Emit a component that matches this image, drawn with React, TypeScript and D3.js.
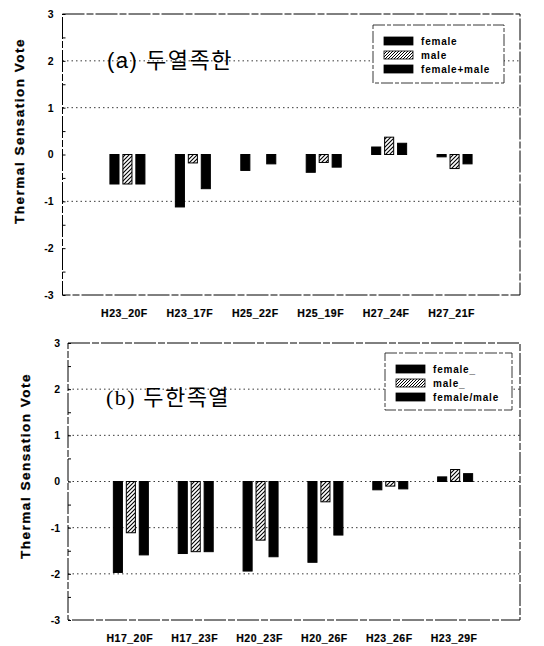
import React, { useEffect, useRef } from 'react';
import * as d3 from 'd3';

// panel (a): 두열족한
const topCategories = ['H23_20F', 'H23_17F', 'H25_22F', 'H25_19F', 'H27_24F', 'H27_21F'];
const topFemale = [-0.63, -1.12, -0.34, -0.38, 0.16, -0.05];
const topMale = [-0.63, -0.18, 0, -0.17, 0.37, -0.3];
const topBoth = [-0.63, -0.73, -0.2, -0.27, 0.24, -0.2];
const topLegend = ['female', 'male', 'female+male'];
const topGrid = [2, 1, -1];

// panel (b): 두한족열
const bottomCategories = ['H17_20F', 'H17_23F', 'H20_23F', 'H20_26F', 'H23_26F', 'H23_29F'];
const bottomFemale = [-1.97, -1.56, -1.94, -1.75, -0.18, 0.1];
const bottomMale = [-1.11, -1.52, -1.27, -0.44, -0.1, 0.26];
const bottomBoth = [-1.59, -1.52, -1.63, -1.16, -0.16, 0.17];
const bottomLegend = ['female_', 'male_', 'female/male'];
const bottomGrid = [2, 1, 0, -1, -2];

const yTicks = [-3, -2, -1, 0, 1, 2, 3];
const yMinorTicks = [-2.5, -1.5, -0.5, 0.5, 1.5, 2.5];
const seriesKeys = ['female', 'male', 'both'];

const sans = '"Liberation Sans", Arial, sans-serif';

function drawPanel(root, p) {
  const g = root.append('g');

  const y = d3.scaleLinear().domain([-3, 3]).range([p.bottom, p.top]);
  const x = d3.scalePoint().domain(p.categories).range(p.xRange).padding(1);
  const inner = d3.scaleBand().domain(seriesKeys).range([-17.5, 17.5]).paddingInner(0.3);

  // dotted grid lines
  g.selectAll('line.grid')
    .data(p.grid)
    .enter()
    .append('line')
    .attr('x1', p.left)
    .attr('x2', p.right)
    .attr('y1', d => y(d))
    .attr('y2', d => y(d))
    .attr('stroke', '#222')
    .attr('stroke-width', 0.9)
    .attr('stroke-dasharray', '1.5,3');

  // frame (scanned look, broken lines)
  g.append('rect')
    .attr('x', p.left)
    .attr('y', p.top)
    .attr('width', p.right - p.left)
    .attr('height', p.bottom - p.top)
    .attr('fill', 'none')
    .attr('stroke', '#000')
    .attr('stroke-width', 1)
    .attr('stroke-dasharray', '22,2,7,2');

  // y axis
  const yAxis = g.append('g')
    .attr('transform', `translate(${p.left},0)`)
    .call(d3.axisLeft(y).tickValues(yTicks).tickSizeInner(-3).tickSizeOuter(0).tickPadding(p.tickPad).tickFormat(d => String(d)));
  yAxis.select('.domain').remove();
  yAxis.selectAll('text')
    .attr('font-family', sans)
    .attr('font-weight', 700)
    .attr('font-size', 10.5)
    .attr('fill', '#000');

  const minor = g.append('g')
    .attr('transform', `translate(${p.left},0)`)
    .call(d3.axisLeft(y).tickValues(yMinorTicks).tickSizeInner(-3).tickSizeOuter(0).tickFormat(() => ''));
  minor.select('.domain').remove();

  // axis title
  g.append('text')
    .attr('transform', `translate(${p.titleX},${p.titleY}) rotate(-90)`)
    .attr('text-anchor', 'middle')
    .attr('font-family', sans)
    .attr('font-weight', 700)
    .attr('font-size', 13.5)
    .attr('letter-spacing', 1.5)
    .attr('stroke', '#000')
    .attr('stroke-width', 0.3)
    .text('Thermal Sensation Vote');

  // category labels
  g.selectAll('text.cat')
    .data(p.categories)
    .enter()
    .append('text')
    .attr('x', d => x(d) + p.labelShift)
    .attr('y', p.labelY)
    .attr('text-anchor', 'middle')
    .attr('font-family', sans)
    .attr('font-weight', 700)
    .attr('font-size', 10.5)
    .attr('letter-spacing', 0.5)
    .attr('stroke', '#000')
    .attr('stroke-width', 0.2)
    .text(d => d);

  // bars
  const bars = [];
  p.categories.forEach((c, i) => {
    seriesKeys.forEach((k, j) => {
      const v = p.values[j][i];
      if (v !== 0) bars.push({ c, k, v });
    });
  });

  g.selectAll('rect.bar')
    .data(bars)
    .enter()
    .append('rect')
    .attr('x', d => x(d.c) + inner(d.k))
    .attr('y', d => y(Math.max(0, d.v)))
    .attr('width', inner.bandwidth())
    .attr('height', d => Math.abs(y(d.v) - y(0)))
    .attr('fill', d => d.k === 'male' ? 'url(#hatch)' : '#000')
    .attr('stroke', '#000')
    .attr('stroke-width', 1);

  // annotation
  g.append('text')
    .attr('x', p.noteX)
    .attr('y', p.noteY)
    .attr('font-family', p.noteFont)
    .attr('font-size', 22)
    .attr('letter-spacing', 1.5)
    .text(p.note);

  // legend
  const lg = g.append('g').attr('transform', `translate(${p.legend.x},${p.legend.y})`);
  lg.append('rect')
    .attr('width', p.legend.w)
    .attr('height', p.legend.h)
    .attr('fill', '#fff')
    .attr('stroke', '#222')
    .attr('stroke-width', 0.9)
    .attr('stroke-dasharray', '12,2,4,2');

  const item = lg.selectAll('g.item')
    .data(p.legendLabels)
    .enter()
    .append('g')
    .attr('transform', (d, i) => `translate(11,${p.legend.row0 + i * 14})`);
  item.append('rect')
    .attr('width', 29)
    .attr('height', 8)
    .attr('fill', (d, i) => i === 1 ? 'url(#hatchDense)' : '#000')
    .attr('stroke', '#000')
    .attr('stroke-width', 0.8);
  item.append('text')
    .attr('x', 37)
    .attr('y', 7.5)
    .attr('font-family', sans)
    .attr('font-weight', 700)
    .attr('font-size', 10)
    .attr('letter-spacing', 0.8)
    .text(d => d);
}

export default function App() {
  const svgRef = useRef(null);

  useEffect(() => {
    const svg = d3.select(svgRef.current);
    svg.selectAll('g.root').remove();
    const root = svg.append('g').attr('class', 'root');

    drawPanel(root, {
      categories: topCategories,
      values: [topFemale, topMale, topBoth],
      legendLabels: topLegend,
      grid: topGrid,
      left: 62.5, right: 520, top: 14, bottom: 295,
      xRange: [62, 520],
      tickPad: 9,
      titleX: 24, titleY: 131,
      labelY: 317, labelShift: -3,
      note: '(a) 두열족한', noteX: 107, noteY: 68,
      noteFont: '"Liberation Sans", "Noto Sans CJK KR", sans-serif',
      legend: { x: 373, y: 25, w: 131, h: 58, row0: 12 },
    });

    drawPanel(root, {
      categories: bottomCategories,
      values: [bottomFemale, bottomMale, bottomBoth],
      legendLabels: bottomLegend,
      grid: bottomGrid,
      left: 68, right: 520, top: 343, bottom: 620,
      xRange: [66, 520],
      tickPad: 8,
      titleX: 30, titleY: 466,
      labelY: 642, labelShift: -1,
      note: '(b) 두한족열', noteX: 106, noteY: 405,
      noteFont: '"Liberation Serif", "DejaVu Serif", "Noto Sans CJK KR", serif',
      legend: { x: 385, y: 353, w: 127, h: 57, row0: 12 },
    });
  }, []);

  return (
    <div style={{ position: 'absolute', left: 0, top: 0 }}>
      <svg ref={svgRef} width={544} height={646} style={{ display: 'block', background: '#fff' }}>
        <defs>
          <pattern id="hatch" patternUnits="userSpaceOnUse" width="4" height="4">
            <rect width="4" height="4" fill="#fff" />
            <path d="M-1,1 l2,-2 M0,4 l4,-4 M3,5 l2,-2" stroke="#000" strokeWidth="1.1" />
          </pattern>
          <pattern id="hatchDense" patternUnits="userSpaceOnUse" width="3" height="3">
            <rect width="3" height="3" fill="#fff" />
            <path d="M-1,1 l2,-2 M0,3 l3,-3 M2,4 l2,-2" stroke="#000" strokeWidth="1" />
          </pattern>
        </defs>
      </svg>
    </div>
  );
}
